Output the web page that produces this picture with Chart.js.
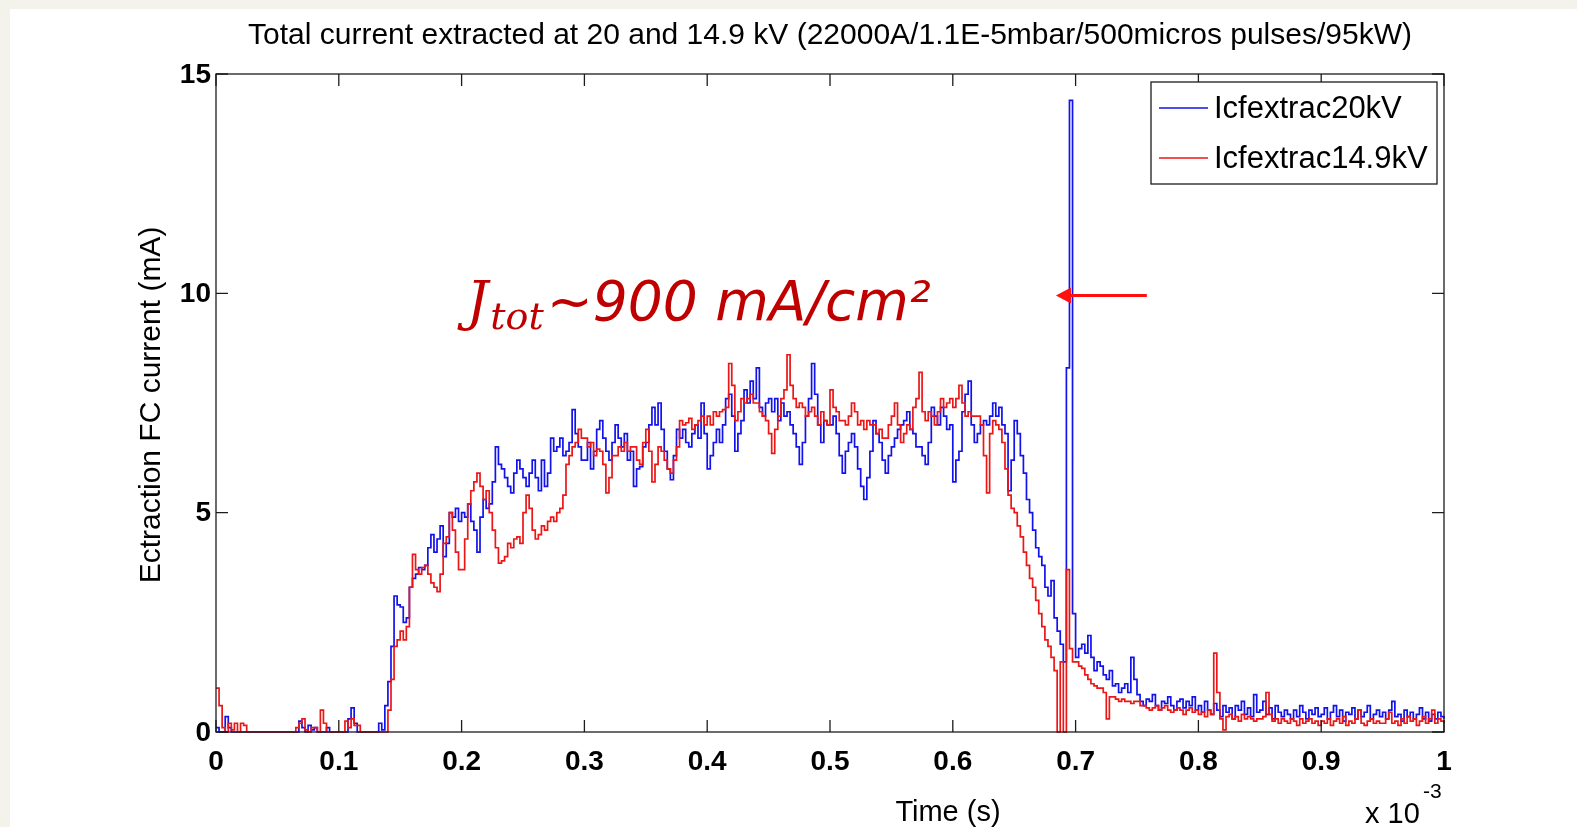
<!DOCTYPE html>
<html>
<head>
<meta charset="utf-8">
<title>Total current extracted</title>
<script src="https://cdn.jsdelivr.net/npm/chart.js@4.4.1/dist/chart.umd.min.js"></script>
<style>
  html, body { margin: 0; padding: 0; background: #f3f2eb; overflow: hidden; }
  #paper { position: absolute; left: 10px; top: 9px; right: 0; bottom: 0; background: #fff; }
  #graph { position: absolute; left: 0; top: 0; }
</style>
</head>
<body>
<div id="paper"></div>
<canvas id="graph" width="1577" height="827"></canvas>
<script>
/* ---------------------------------------------------------------------- */
/* Donnees (temps en 1e-3 s, courant en mA) */

var SAMPLE_STEP = 0.0025;

var current20kV = [
    // 0.00
    0.1,0,0,0.35,0.1,0,0,0,0,0,0,0,0,0,0,0,0,0,0,0,
    // 0.05
    0,0,0,0,0,0,0,0.25,0.1,0,0.15,0.05,0.1,0,0,0,0.1,0,0,0,
    // 0.10
    0,0,0,0.3,0.55,0.2,0,0,0,0,0,0,0,0.2,0.05,0.6,1.15,1.95,3.1,2.9,
    // 0.15
    2.85,2.5,2.6,3.3,3.5,3.6,3.75,3.7,3.8,4.2,4.5,4.1,4.4,4.7,4.0,4.3,5.0,4.9,5.1,4.8,
    // 0.20
    5.0,4.9,5.2,4.8,4.6,4.1,4.9,5.3,5.1,5.2,5.7,6.5,6.1,6.0,5.8,5.6,5.45,5.9,6.2,6.0,
    // 0.25
    5.8,5.6,5.9,6.2,5.8,5.5,6.2,5.6,5.9,6.7,6.4,6.5,6.7,6.3,6.4,6.6,7.35,6.8,6.5,6.2,
    // 0.30
    6.2,6.6,6.0,6.4,6.9,7.1,6.7,6.4,6.2,6.6,7.0,6.7,6.5,6.8,6.2,6.4,5.6,6.0,6.05,6.5,
    // 0.35
    6.6,7.0,7.4,7.0,7.5,6.9,6.4,6.0,5.75,6.3,6.9,6.7,6.9,6.6,6.5,6.8,7.0,6.7,7.5,6.8,
    // 0.40
    6.0,6.3,6.6,6.9,6.6,7.0,7.6,7.7,7.2,6.4,6.8,7.1,7.8,7.5,8.0,7.6,8.3,7.4,7.2,7.5,
    // 0.45
    7.6,7.3,7.6,7.1,7.5,7.2,7.3,7.0,6.8,6.5,6.1,6.6,7.2,7.6,8.4,7.7,7.0,6.6,7.1,7.0,
    // 0.50
    7.0,7.2,6.8,6.3,5.9,6.4,6.6,6.8,6.5,6.0,5.6,5.3,5.8,6.4,7.1,6.8,6.6,6.2,5.9,6.3,
    // 0.55
    6.5,6.7,6.9,7.0,7.1,7.3,6.9,6.8,6.5,6.5,6.3,6.1,6.6,7.4,7.2,7.0,7.4,7.2,6.9,7.0,
    // 0.60
    5.7,6.2,6.4,7.3,7.7,8.0,7.0,6.6,6.8,7.0,7.1,7.0,7.2,7.5,7.2,7.4,7.0,6.8,5.5,6.2,
    // 0.65
    7.1,6.8,6.3,5.9,5.3,5.0,4.6,4.2,4.0,3.8,3.3,3.1,3.45,2.6,2.3,2.0,1.6,8.3,14.4,2.7,
    // 0.70
    1.7,1.9,2.0,1.8,2.2,1.7,1.4,1.6,1.5,1.3,1.2,1.4,1.05,1.1,0.9,1.0,1.1,0.9,1.7,1.2,
    // 0.75
    0.85,0.7,0.6,0.75,0.7,0.85,0.6,0.5,0.7,0.65,0.8,0.6,0.5,0.7,0.75,0.55,0.7,0.6,0.8,0.5,
    // 0.80
    0.6,0.45,0.7,0.5,0.4,0.65,0.5,0.35,0.6,0.45,0.55,0.3,0.6,0.5,0.7,0.4,0.55,0.35,0.85,0.45,
    // 0.85
    0.5,0.7,0.4,0.55,0.3,0.6,0.45,0.35,0.5,0.4,0.3,0.5,0.35,0.6,0.45,0.3,0.5,0.4,0.55,0.35,
    // 0.90
    0.4,0.55,0.3,0.45,0.6,0.35,0.5,0.25,0.45,0.4,0.55,0.3,0.5,0.35,0.45,0.6,0.3,0.4,0.5,0.35,
    // 0.95
    0.45,0.3,0.5,0.7,0.35,0.4,0.25,0.5,0.35,0.45,0.3,0.4,0.55,0.3,0.45,0.25,0.4,0.3,0.45,0.35,
    // 1.00
    0.3
];

var current14kV = [
    // 0.00
    1.0,0.6,0.1,0,0.2,0.05,0.2,0,0.2,0.15,0,0,0,0,0,0,0,0,0,0,
    // 0.05
    0,0,0,0,0,0,0.1,0.2,0.3,0.05,0,0.1,0.1,0,0.5,0.2,0,0,0,0,
    // 0.10
    0,0,0.25,0.1,0.3,0.15,0.15,0,0,0,0,0,0,0,0,0,0.5,1.2,1.95,2.1,
    // 0.15
    2.3,2.1,2.4,3.3,4.05,3.7,3.6,3.75,3.8,3.6,3.4,3.3,3.2,3.6,4.3,4.45,5.0,4.6,4.1,3.7,
    // 0.20
    3.7,4.4,5.2,5.5,5.7,5.9,5.6,5.3,5.5,5.0,4.6,4.2,3.85,3.9,4.0,4.3,4.2,4.4,4.45,4.3,
    // 0.25
    5.0,5.4,5.1,4.6,4.4,4.5,4.7,4.6,4.8,4.9,4.8,5.0,5.1,5.4,6.1,6.3,6.5,6.6,6.9,6.7,
    // 0.30
    6.7,6.5,6.6,6.3,6.45,6.4,6.1,5.45,5.8,6.3,6.3,6.5,6.4,6.6,6.4,6.5,6.5,6.2,6.1,6.6,
    // 0.35
    6.9,6.4,5.7,6.1,6.5,6.4,6.2,6.0,5.9,6.2,6.5,7.1,7.0,7.05,7.15,6.9,7.0,7.1,7.2,7.0,
    // 0.40
    7.2,7.0,7.3,7.2,7.3,7.35,7.4,8.4,7.9,7.1,7.3,7.6,7.5,7.6,7.7,7.5,7.5,7.3,7.2,7.1,
    // 0.45
    6.8,6.35,6.9,7.2,7.6,7.8,8.6,7.9,7.6,7.4,7.5,7.4,7.2,7.3,7.4,7.2,7.0,7.3,7.1,7.0,
    // 0.50
    7.8,7.4,7.3,7.1,7.1,7.0,7.2,7.5,7.3,7.0,7.1,6.9,7.1,7.0,7.0,6.8,6.9,6.7,6.7,7.0,
    // 0.55
    7.2,7.5,7.0,6.6,6.8,7.0,6.9,7.4,7.6,8.2,7.3,7.1,7.3,7.2,7.0,7.3,7.6,7.4,7.5,7.6,
    // 0.60
    7.4,7.6,7.9,7.5,7.2,7.3,7.2,7.2,7.2,7.0,6.3,5.45,6.8,7.1,7.0,6.9,6.6,6.0,5.4,5.1,
    // 0.65
    5.0,4.7,4.45,4.1,3.8,3.5,3.3,3.0,2.7,2.4,2.1,1.95,1.7,1.4,0,1.6,0,3.7,1.9,1.6,
    // 0.70
    1.6,1.5,1.45,1.3,1.2,1.1,1.05,1.0,1.0,0.9,0.3,0.8,0.8,0.75,0.7,0.75,0.7,0.7,0.65,0.7,
    // 0.75
    0.7,0.6,0.6,0.55,0.5,0.55,0.6,0.5,0.55,0.6,0.5,0.45,0.5,0.55,0.5,0.4,0.5,0.55,0.45,0.5,
    // 0.80
    0.4,0.45,0.35,0.5,0.4,1.8,0.9,0.3,0.05,0.35,0.4,0.3,0.35,0.25,0.4,0.3,0.35,0.3,0.25,0.3,
    // 0.85
    0.3,0.35,0.9,0.4,0.25,0.3,0.2,0.3,0.25,0.2,0.3,0.25,0.15,0.3,0.2,0.25,0.3,0.2,0.25,0.15,
    // 0.90
    0.25,0.2,0.3,0.15,0.25,0.3,0.2,0.35,0.15,0.25,0.2,0.3,0.5,0.2,0.15,0.25,0.3,0.2,0.25,0.2,
    // 0.95
    0.2,0.3,0.45,0.2,0.25,0.15,0.3,0.2,0.35,0.25,0.3,0.15,0.25,0.35,0.2,0.3,0.5,0.2,0.3,0.25,
    // 1.00
    0.2
];

var seriesLabels = ["Icfextrac20kV", "Icfextrac14.9kV"];
var xTicks = [0, 0.1, 0.2, 0.3, 0.4, 0.5, 0.6, 0.7, 0.8, 0.9, 1];
var xTickLabels = ["0", "0.1", "0.2", "0.3", "0.4", "0.5", "0.6", "0.7", "0.8", "0.9", "1"];
var yTicks = [0, 5, 10, 15];
var yTickLabels = ["0", "5", "10", "15"];

var times = current20kV.map(function(v, i) { return +(i * SAMPLE_STEP).toFixed(4); });

function toPoints(values) {
    return values.map(function(v, i) { return {x: times[i], y: v}; });
}

/* ---------------------------------------------------------------------- */
/* Axes facon MATLAB : cadre, graduations interieures, legende, textes */

var FONT = "'Liberation Sans', Arial, sans-serif";
var TICK = 12;

var matlabAxes = {
    id: 'matlabAxes',
    afterDatasetsDraw: function(chart) {
        var ctx = chart.ctx;
        var a = chart.chartArea;
        var x = chart.scales.x;
        var y = chart.scales.y;

        ctx.save();
        ctx.strokeStyle = '#1c1c1c';
        ctx.lineWidth = 1.3;
        ctx.strokeRect(a.left, a.top, a.right - a.left, a.bottom - a.top);

        ctx.beginPath();
        xTicks.forEach(function(v) {
            var px = x.getPixelForValue(v);
            ctx.moveTo(px, a.bottom); ctx.lineTo(px, a.bottom - TICK);
            ctx.moveTo(px, a.top); ctx.lineTo(px, a.top + TICK);
        });
        yTicks.forEach(function(v) {
            var py = y.getPixelForValue(v);
            ctx.moveTo(a.left, py); ctx.lineTo(a.left + TICK, py);
            ctx.moveTo(a.right, py); ctx.lineTo(a.right - TICK, py);
        });
        ctx.stroke();

        // libelles des graduations
        ctx.fillStyle = '#000';
        ctx.font = 'bold 28px ' + FONT;
        ctx.textAlign = 'center';
        ctx.textBaseline = 'top';
        xTicks.forEach(function(v, i) {
            ctx.fillText(xTickLabels[i], x.getPixelForValue(v), a.bottom + 16);
        });
        ctx.textAlign = 'right';
        ctx.textBaseline = 'middle';
        yTicks.forEach(function(v, i) {
            ctx.fillText(yTickLabels[i], a.left - 5, y.getPixelForValue(v) + 1);
        });

        // legende
        var lx = a.right - 293, ly = a.top + 8, lw = 286, lh = 102;
        ctx.fillStyle = '#fff';
        ctx.fillRect(lx, ly, lw, lh);
        ctx.lineWidth = 1.3;
        ctx.strokeStyle = '#1c1c1c';
        ctx.strokeRect(lx, ly, lw, lh);
        ctx.font = '31px ' + FONT;
        ctx.textAlign = 'left';
        chart.data.datasets.forEach(function(ds, i) {
            var rowY = ly + 26 + i * 50;
            ctx.strokeStyle = ds.borderColor;
            ctx.lineWidth = 1.3;
            ctx.beginPath();
            ctx.moveTo(lx + 8, rowY); ctx.lineTo(lx + 57, rowY);
            ctx.stroke();
            ctx.fillStyle = '#000';
            ctx.fillText(ds.label, lx + 63, rowY + 1);
        });
        ctx.restore();
    },
    afterDraw: function(chart) {
        var ctx = chart.ctx;
        var a = chart.chartArea;
        var x = chart.scales.x;
        var y = chart.scales.y;

        ctx.save();
        ctx.fillStyle = '#000';
        ctx.textBaseline = 'middle';

        // titre
        ctx.font = '30px ' + FONT;
        ctx.textAlign = 'center';
        ctx.fillText('Total current extracted at 20 and 14.9 kV (22000A/1.1E-5mbar/500micros pulses/95kW)', (a.left + a.right) / 2, 36);

        // titre axe y
        ctx.save();
        ctx.translate(152, 405);
        ctx.rotate(-Math.PI / 2);
        ctx.font = '30px ' + FONT;
        ctx.fillText('Ectraction FC current (mA)', 0, 0);
        ctx.restore();

        // titre axe x et facteur d'echelle
        ctx.font = '29px ' + FONT;
        ctx.textBaseline = 'top';
        ctx.fillText('Time (s)', 948, 798);
        ctx.textAlign = 'left';
        ctx.fillText('x 10', 1365, 800);
        ctx.font = '21px ' + FONT;
        ctx.fillText('-3', 1423, 782);

        // annotation densite de courant
        var ax = x.getPixelForValue(0.2) + 5;
        var ay = y.getPixelForValue(9.4);
        ctx.fillStyle = '#c00000';
        ctx.textBaseline = 'alphabetic';
        ctx.font = "italic 54px 'DejaVu Serif', serif";
        ctx.fillText('J', ax, ay);
        var cx = ax + ctx.measureText('J').width + 2;
        ctx.font = "italic 38px 'DejaVu Serif', serif";
        ctx.fillText('tot', cx, ay + 9);
        cx += ctx.measureText('tot').width + 3;
        ctx.font = "italic 55px 'DejaVu Sans', sans-serif";
        ctx.fillText('~900 mA/cm²', cx, ay);

        // fleche vers le pic
        var x1 = x.getPixelForValue(0.758), x2 = x.getPixelForValue(0.684);
        var yy = y.getPixelForValue(9.95);
        ctx.strokeStyle = '#ff1010';
        ctx.fillStyle = '#ff1010';
        ctx.lineWidth = 3;
        ctx.beginPath();
        ctx.moveTo(x1, yy); ctx.lineTo(x2 + 12, yy);
        ctx.stroke();
        ctx.beginPath();
        ctx.moveTo(x2, yy); ctx.lineTo(x2 + 15, yy - 8); ctx.lineTo(x2 + 15, yy + 8);
        ctx.closePath();
        ctx.fill();
        ctx.restore();
    }
};

/* ---------------------------------------------------------------------- */
/* Graphique */

var graph = document.getElementById("graph").getContext("2d");

var myChart = new Chart(graph, {
    type: "line",
    data: {
        datasets: [{
            label: seriesLabels[0],
            data: toPoints(current20kV),
            borderColor: 'rgb(18,18,235)',
            borderWidth: 1.7,
            pointRadius: 0,
            stepped: true,
            order: 2,
            clip: 4,
        }, {
            label: seriesLabels[1],
            data: toPoints(current14kV),
            borderColor: 'rgb(235,22,22)',
            borderWidth: 1.7,
            pointRadius: 0,
            stepped: true,
            order: 1,
            clip: 4,
        }],
    },
    options: {
        responsive: false,
        animation: false,
        devicePixelRatio: 1,
        layout: {
            padding: {left: 216, top: 74, right: 133, bottom: 95},
        },
        scales: {
            x: {type: 'linear', min: 0, max: 1, display: false},
            y: {type: 'linear', min: 0, max: 15, display: false},
        },
        plugins: {
            legend: {display: false},
            tooltip: {enabled: false},
        },
    },
    plugins: [matlabAxes],
});
</script>
</body>
</html>
